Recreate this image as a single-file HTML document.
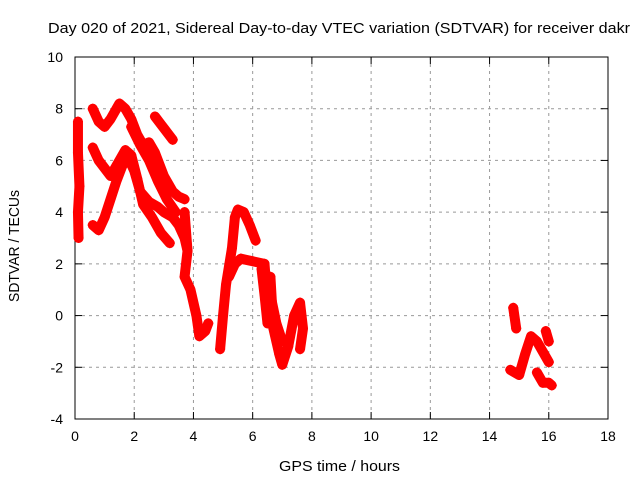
<!DOCTYPE html>
<html><head><meta charset="utf-8"><style>
body{margin:0;background:#fff}
svg{font-family:"Liberation Sans",sans-serif;font-size:14px}
</style></head><body>
<svg width="640" height="480">
<text x="48" y="33" textLength="582" lengthAdjust="spacingAndGlyphs" font-size="15">Day 020 of 2021, Sidereal Day-to-day VTEC variation (SDTVAR) for receiver dakr</text>
<g id="grid"></g>
<rect x="75" y="57" width="533" height="362" fill="none" stroke="#000"/>
<g id="ticks"></g>
<g id="marks"></g>
<text x="279" y="471" textLength="121" lengthAdjust="spacingAndGlyphs" font-size="15">GPS time / hours</text>
<text transform="translate(19,302) rotate(-90)" textLength="112" lengthAdjust="spacingAndGlyphs" font-size="15">SDTVAR / TECUs</text>
</svg>
<script>
const xTicks=[0,2,4,6,8,10,12,14,16,18];
const yTicks=[-4,-2,0,2,4,6,8,10];
const traceA_t=[0.1,0.1,0.15,0.1,0.12];
const traceA_v=[7.5,6.3,5.0,4.0,3.0];
const trace1_t=[0.6,0.8,1.0,1.2,1.5,1.7,1.9,2.1,2.3,2.6,2.9,3.2];
const trace1_v=[6.5,6.0,5.7,5.4,6.0,6.4,6.2,5.3,4.3,3.8,3.2,2.8];
const trace2_t=[0.6,0.8,1.0,1.2,1.4,1.6,1.8,2.0,2.2,2.5,2.8,3.0,3.3,3.5,3.7,3.8];
const trace2_v=[3.5,3.3,3.8,4.5,5.2,5.8,6.1,5.6,4.8,4.4,4.2,4.0,3.8,3.5,3.0,2.5];
const trace3_t=[0.6,0.8,1.0,1.2,1.5,1.7,1.9,2.1,2.3,2.5,2.7,3.0,3.3,3.5,3.7];
const trace3_v=[8.0,7.5,7.3,7.6,8.2,8.0,7.6,7.0,6.6,6.7,6.3,5.4,4.8,4.6,4.5];
const trace4_t=[2.7,2.9,3.1,3.3];
const trace4_v=[7.7,7.4,7.1,6.8];
const trace5_t=[1.9,2.2,2.5,2.8,3.1,3.4];
const trace5_v=[7.3,6.6,6.0,5.2,4.5,4.0];
const trace6_t=[3.7,3.8,3.7,3.9,4.1,4.2,4.4,4.5];
const trace6_v=[4.0,2.5,1.5,1.0,0.0,-0.8,-0.6,-0.3];
const trace7_t=[4.9,5.0,5.1,5.3,5.4,5.5,5.7,5.9,6.1];
const trace7_v=[-1.3,0.0,1.2,2.6,3.8,4.1,4.0,3.5,2.9];
const trace8_t=[5.2,5.4,5.6,6.0,6.4];
const trace8_v=[1.5,2.0,2.2,2.1,2.0];
const trace9_t=[6.4,6.5,6.6,6.7,6.9,7.0,7.2,7.4,7.6,7.7,7.6];
const trace9_v=[2.0,0.5,1.5,-0.5,-1.5,-1.9,-1.2,0.0,0.5,-0.5,-1.3];
const trace9b_t=[6.3,6.4,6.5,6.6,6.8,7.0];
const trace9b_v=[1.8,0.8,-0.3,0.8,-0.3,-1.0];
const trace10_t=[14.8,14.9];
const trace10_v=[0.3,-0.5];
const trace11_t=[14.7,15.0,15.2,15.4,15.6,15.8,16.0];
const trace11_v=[-2.1,-2.3,-1.5,-0.8,-1.0,-1.4,-1.8];
const trace12_t=[15.6,15.8,16.0,16.1];
const trace12_v=[-2.2,-2.6,-2.6,-2.7];
const trace13_t=[15.9,16.0];
const trace13_v=[-0.6,-1.0];
const traces=[[traceA_t,traceA_v],[trace1_t,trace1_v],[trace2_t,trace2_v],[trace3_t,trace3_v],[trace4_t,trace4_v],[trace5_t,trace5_v],[trace6_t,trace6_v],[trace7_t,trace7_v],[trace8_t,trace8_v],[trace9_t,trace9_v],[trace9b_t,trace9b_v],[trace10_t,trace10_v],[trace11_t,trace11_v],[trace12_t,trace12_v],[trace13_t,trace13_v]];
const NS="http://www.w3.org/2000/svg";
const X=t=>75+t*(533/18), Y=v=>419-(v+4)*(362/14);
const grid=document.getElementById('grid'),ticks=document.getElementById('ticks'),marks=document.getElementById('marks');
function mk(tag,attrs,parent){const e=document.createElementNS(NS,tag);for(const k in attrs)e.setAttribute(k,attrs[k]);parent.appendChild(e);return e;}
xTicks.forEach(t=>{
 const x=X(t);
 if(t>0&&t<18){const g=mk('line',{x1:x,x2:x,y1:57,y2:419,stroke:'#999','stroke-dasharray':'3,4'},grid);
 
 }
 mk('line',{x1:x,x2:x,y1:419,y2:412,stroke:'#000'},ticks);
 mk('line',{x1:x,x2:x,y1:57,y2:64,stroke:'#000'},ticks);
 const l=mk('text',{x:x,y:441,'text-anchor':'middle'},ticks);l.textContent=t;
 
 
});
yTicks.forEach(v=>{
 const y=Y(v);
 if(v>-4&&v<10){const g=mk('line',{x1:75,x2:608,y1:y,y2:y,stroke:'#999','stroke-dasharray':'3,4'},grid);
 
 }
 mk('line',{x1:75,x2:82,y1:y,y2:y,stroke:'#000'},ticks);
 mk('line',{x1:601,x2:608,y1:y,y2:y,stroke:'#000'},ticks);
 const l=mk('text',{x:63,y:y+5,'text-anchor':'end'},ticks);l.textContent=v;
 
 
});
traces.forEach(([ts,vs])=>{
 const pts=ts.map((t,i)=>X(t)+','+Y(vs[i])).join(' ');
 const p=mk('polyline',{points:pts,fill:'none',stroke:'#f00','stroke-width':10,'stroke-linejoin':'round','stroke-linecap':'round'},marks);
 
 
 ts.forEach((t,i)=>{
  const x=X(t),y=Y(vs[i]);
  const m=mk('path',{d:`M${x-5},${y}h10M${x},${y-5}v10`,stroke:'#f00','stroke-width':1.5},marks);
  
  
 });
});
</script>
</body></html>
